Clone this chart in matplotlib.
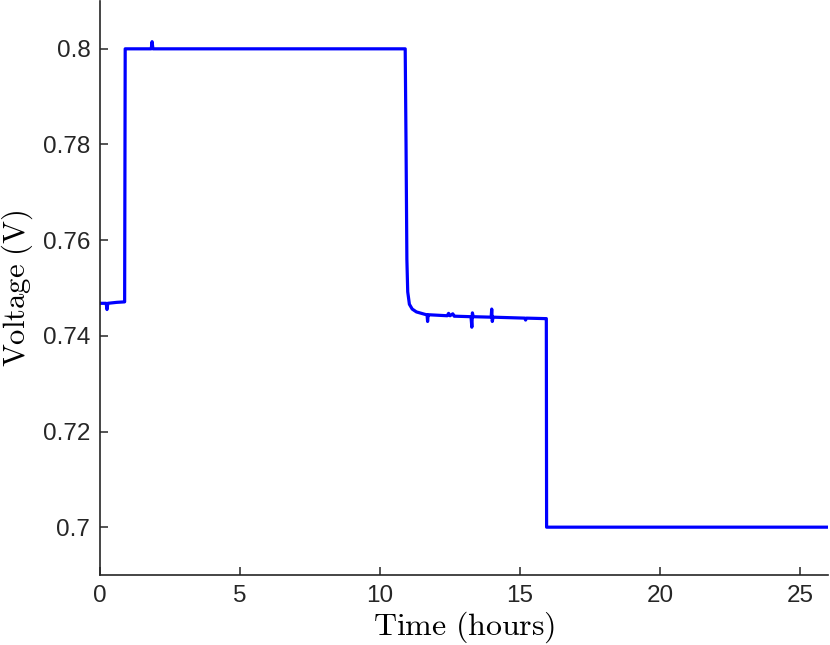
import matplotlib
matplotlib.use("Agg")
import matplotlib.pyplot as plt

plt.rcParams['mathtext.fontset'] = 'cm'
plt.rcParams['font.family'] = ['Liberation Sans', 'DejaVu Sans']

# voltage trace (hours, volts)
time_h = [0.0, 0.22, 0.25, 0.28, 0.60, 0.88,
          0.90, 1.83, 1.86, 1.89, 5.0, 10.90,
          10.93, 10.96, 10.99, 11.05, 11.15, 11.30, 11.60, 11.68, 11.70, 11.72, 11.76,
          12.40, 12.45, 12.50, 12.60, 12.65, 12.70, 13.25, 13.28, 13.30, 13.33,
          13.97, 13.99, 14.01, 14.04, 15.17, 15.20, 15.23, 15.90, 15.94,
          15.95, 20.0, 26.0]
voltage = [0.7468, 0.7468, 0.7455, 0.7468, 0.7470, 0.7471,
           0.8000, 0.8000, 0.8015, 0.8000, 0.8000, 0.8000,
           0.7800, 0.7560, 0.7492, 0.7466, 0.7456, 0.7450, 0.7445, 0.7444, 0.7430, 0.7444, 0.7444,
           0.7442, 0.7447, 0.7442, 0.7446, 0.7441, 0.7441, 0.7440, 0.7418, 0.7448, 0.7440,
           0.7439, 0.7456, 0.7430, 0.7439, 0.7437, 0.7433, 0.7437, 0.7436, 0.7436,
           0.7000, 0.7000, 0.7000]

xticks = [0, 5, 10, 15, 20, 25]
yticks = [0.70, 0.72, 0.74, 0.76, 0.78, 0.80]
ytick_labels = ['0.7', '0.72', '0.74', '0.76', '0.78', '0.8']

fig = plt.figure(figsize=(8.3, 6.45), dpi=100)
ax = fig.add_axes([100 / 830, 70 / 645, 728 / 830, 574 / 645])

ax.plot(time_h, voltage, color='#0000ff', linewidth=2.3)

ax.set_xlim(0, 26)
ax.set_ylim(0.69, 0.81)
ax.set_xticks(xticks)
ax.set_xticklabels([str(t) for t in xticks])
ax.set_yticks(yticks)
ax.set_yticklabels(ytick_labels)

for side in ['top', 'right']:
    ax.spines[side].set_visible(False)
for side in ['left', 'bottom']:
    ax.spines[side].set_linewidth(1.2)
    ax.spines[side].set_color('#262626')
ax.tick_params(direction='in', length=6, width=1.1, colors='#262626',
               labelsize=17.5, pad=7)

ax.set_xlabel(r'$\mathrm{Time\ (hours)}$', fontsize=23, va='center')
ax.xaxis.set_label_coords(0.5, (575 - 627) / 574)
ax.set_ylabel(r'$\mathrm{Voltage\ (V)}$', fontsize=22, va='center')
ax.yaxis.set_label_coords(-83 / 728, 0.5)

fig.savefig('out.png', dpi=100)
